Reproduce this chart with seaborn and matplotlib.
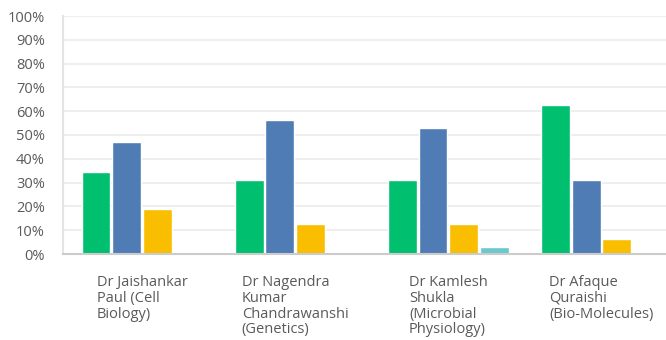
import matplotlib
matplotlib.use("Agg")
import matplotlib.pyplot as plt
import seaborn as sns
import pandas as pd

# Response shares (%) per instructor, one list per answer option
categories = [
    "Dr Jaishankar\nPaul (Cell\nBiology)",
    "Dr Nagendra\nKumar\nChandrawanshi\n(Genetics)",
    "Dr Kamlesh\nShukla\n(Microbial\nPhysiology)",
    "Dr Afaque\nQuraishi\n(Bio-Molecules)",
]
series_names = ["A", "B", "C", "D"]
series_a = [34.38, 31.25, 31.25, 62.50]
series_b = [46.88, 56.25, 53.13, 31.25]
series_c = [18.75, 12.50, 12.50, 6.25]
series_d = [0.0, 0.0, 3.13, 0.0]
y_ticks = [0, 10, 20, 30, 40, 50, 60, 70, 80, 90, 100]

colors = ["#00BF6F", "#507CB6", "#F9BE00", "#6BC8CD"]

rows = []
for name, vals in zip(series_names, [series_a, series_b, series_c, series_d]):
    for cat, v in zip(categories, vals):
        rows.append({"category": cat, "series": name, "value": v})
df = pd.DataFrame(rows)

sns.set_style("white")
plt.rcParams["font.family"] = ["Open Sans", "DejaVu Sans"]

fig = plt.figure(figsize=(6.66, 3.40), dpi=100)
ax = fig.add_axes([63 / 666, 1 - 254 / 340, 615 / 666, 238 / 340])

sns.barplot(
    data=df, x="category", y="value", hue="series",
    order=categories, hue_order=series_names,
    palette=colors, width=0.8, gap=0.06, saturation=1,
    legend=False, ax=ax,
)

ax.set_xlim(-0.516, 3.5)
ax.set_ylim(0, 100)
ax.set_yticks(y_ticks)
ax.set_yticklabels([f"{t}%" for t in y_ticks], fontsize=10.5, color="#5a5a5a")
ax.yaxis.grid(True, color="#ededed", linewidth=1.3)
ax.set_axisbelow(True)
ax.tick_params(axis="y", length=0, pad=13)
ax.tick_params(axis="x", length=0, pad=15)
ax.set_xlabel("")
ax.set_ylabel("")

for lbl in ax.get_xticklabels():
    lbl.set_fontsize(10.5)
    lbl.set_color("#5a5a5a")
    lbl.set_multialignment("left")
    lbl.set_verticalalignment("top")
    lbl.set_linespacing(1.08)

for side in ["top", "right"]:
    ax.spines[side].set_visible(False)
ax.spines["left"].set_color("#e4e4e4")
ax.spines["left"].set_linewidth(1.5)
ax.spines["bottom"].set_color("#cccccc")
ax.spines["bottom"].set_linewidth(1.5)

fig.savefig("out.png", dpi=100)
